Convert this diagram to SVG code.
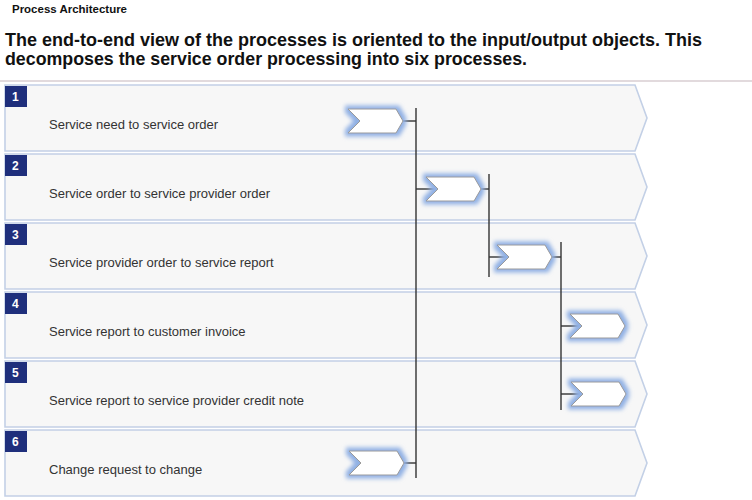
<svg xmlns="http://www.w3.org/2000/svg" xmlns:xlink="http://www.w3.org/1999/xlink" width="752" height="500" viewBox="0 0 752 500">
<style>
.hdr{font-family:"Liberation Sans",Arial,sans-serif;font-weight:bold;font-size:10.5px;fill:#111}
.title{font-family:"Liberation Sans",Arial,sans-serif;font-weight:bold;font-size:18.5px;fill:#111}
.row{fill:#f7f7f7;stroke:#c3d0e6;stroke-width:1.6}
.num{fill:#1f2f7c}
.numt{font-family:"Liberation Sans",Arial,sans-serif;font-weight:bold;font-size:12px;fill:#fff}
.lbl{font-family:"Liberation Sans",Arial,sans-serif;font-size:13px;fill:#333}
.chev{fill:#fff;stroke:#9a9a9a;stroke-width:1;filter:url(#glow)}
.con{stroke:#333;stroke-width:1.4;fill:none}
</style>
<defs>
<filter id="glow" x="-30%" y="-60%" width="160%" height="220%">
<feFlood flood-color="#90b0e4" result="f"/>
<feComposite in="f" in2="SourceAlpha" operator="in" result="c"/>
<feMorphology in="c" operator="dilate" radius="2.5" result="d"/>
<feGaussianBlur in="d" stdDeviation="2" result="b"/>
<feMerge><feMergeNode in="b"/><feMergeNode in="SourceGraphic"/></feMerge>
</filter>
<path id="chevshape" d="M0,0 H48 L55,12 L48,24 H0 L12,12 Z"/>
</defs>
<rect width="752" height="500" fill="#fff"/>
<text class="hdr" x="12" y="13" textLength="115" lengthAdjust="spacingAndGlyphs">Process Architecture</text>
<text class="title" x="5" y="46" textLength="697" lengthAdjust="spacingAndGlyphs">The end-to-end view of the processes is oriented to the input/output objects. This</text>
<text class="title" x="5" y="65" textLength="522" lengthAdjust="spacingAndGlyphs">decomposes the service order processing into six processes.</text>
<line x1="0" y1="81" x2="752" y2="81" stroke="#e2dadd" stroke-width="2"/>

<g id="row1">
<path class="row" d="M5,85 H635 L647,118 L635,151 H5 Z"/>
<rect class="num" x="5" y="86" width="22" height="21"/>
<text class="numt" x="12" y="101">1</text>
<text class="lbl" x="49" y="129">Service need to service order</text>
</g>
<g id="row2">
<path class="row" d="M5,154 H635 L647,187 L635,220 H5 Z"/>
<rect class="num" x="5" y="155" width="22" height="21"/>
<text class="numt" x="12" y="170">2</text>
<text class="lbl" x="49" y="198">Service order to service provider order</text>
</g>
<g id="row3">
<path class="row" d="M5,223 H635 L647,256 L635,289 H5 Z"/>
<rect class="num" x="5" y="224" width="22" height="21"/>
<text class="numt" x="12" y="239">3</text>
<text class="lbl" x="49" y="267">Service provider order to service report</text>
</g>
<g id="row4">
<path class="row" d="M5,292 H635 L647,325 L635,358 H5 Z"/>
<rect class="num" x="5" y="293" width="22" height="21"/>
<text class="numt" x="12" y="308">4</text>
<text class="lbl" x="49" y="336">Service report to customer invoice</text>
</g>
<g id="row5">
<path class="row" d="M5,361 H635 L647,394 L635,427 H5 Z"/>
<rect class="num" x="5" y="362" width="22" height="21"/>
<text class="numt" x="12" y="377">5</text>
<text class="lbl" x="49" y="405">Service report to service provider credit note</text>
</g>
<g id="row6">
<path class="row" d="M5,430 H635 L647,463 L635,496 H5 Z"/>
<rect class="num" x="5" y="431" width="22" height="21"/>
<text class="numt" x="12" y="446">6</text>
<text class="lbl" x="49" y="474">Change request to change</text>
</g>

<g id="connectors">
<line class="con" x1="416" y1="108" x2="416" y2="478"/>
<line class="con" x1="402" y1="121" x2="416" y2="121"/>
<line class="con" x1="416" y1="189" x2="438" y2="189"/>
<line class="con" x1="404" y1="463" x2="416" y2="463"/>
<line class="con" x1="489" y1="174" x2="489" y2="277"/>
<line class="con" x1="481" y1="189" x2="489" y2="189"/>
<line class="con" x1="489" y1="257" x2="510" y2="257"/>
<line class="con" x1="561" y1="242" x2="561" y2="410"/>
<line class="con" x1="551" y1="257" x2="561" y2="257"/>
<line class="con" x1="561" y1="326" x2="582" y2="326"/>
<line class="con" x1="561" y1="394" x2="583" y2="394"/>
</g>

<g id="chevrons">
<use class="chev" xlink:href="#chevshape" transform="translate(348,109)"/>
<use class="chev" xlink:href="#chevshape" transform="translate(426,177)"/>
<use class="chev" xlink:href="#chevshape" transform="translate(497,245)"/>
<use class="chev" xlink:href="#chevshape" transform="translate(570,314)"/>
<use class="chev" xlink:href="#chevshape" transform="translate(571,382)"/>
<use class="chev" xlink:href="#chevshape" transform="translate(349,451)"/>
</g>
</svg>
